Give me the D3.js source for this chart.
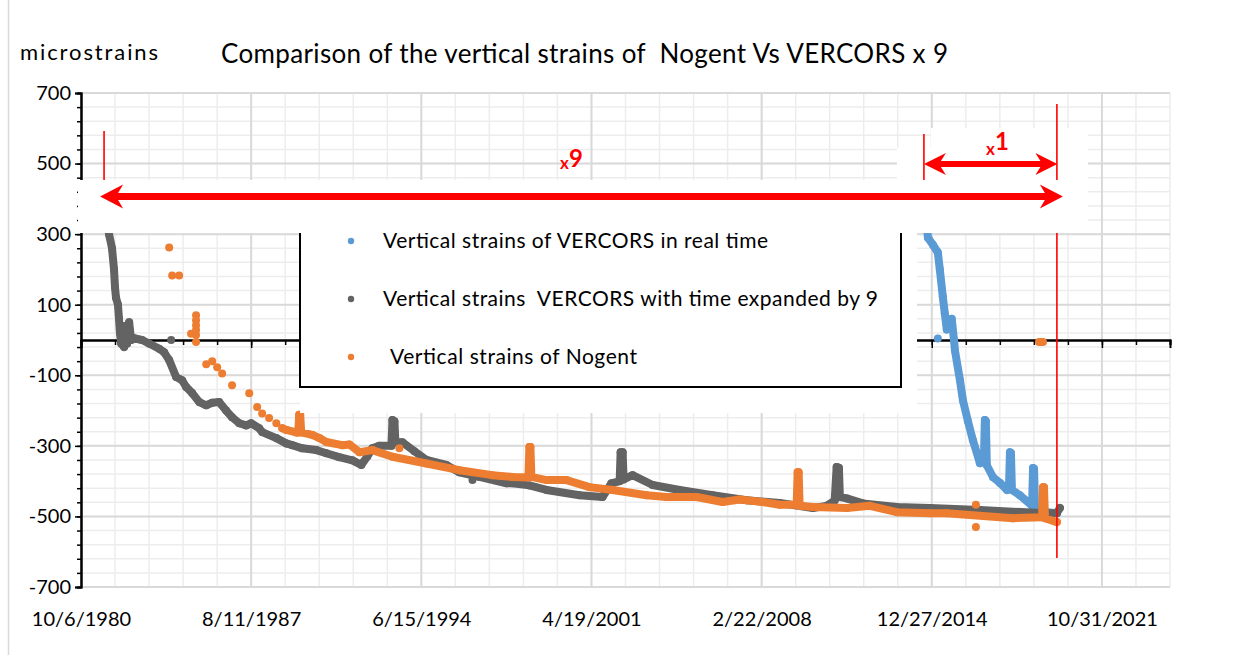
<!DOCTYPE html>
<html>
<head>
<meta charset="utf-8">
<script src="https://cdn.jsdelivr.net/npm/d3@7"></script>
<style>
  html, body { margin: 0; padding: 0; background: #fff; }
  svg { display: block; font-family: Lato, "Open Sans", sans-serif; }
</style>
</head>
<body>
<svg id="chart" width="1239" height="655"></svg>
<script>
// VERCORS, time expanded by 9 (decimal years, microstrains)
const grayYears = [1981.77, 1981.89, 1982.01, 1982.09, 1982.13, 1982.17, 1982.25, 1982.29, 1982.33, 1982.38,
  1982.50, 1982.54, 1982.62, 1982.70, 1982.78, 1982.90, 1983.22, 1983.50, 1983.91, 1984.11,
  1984.31, 1984.59, 1984.83, 1984.99, 1985.23, 1985.52, 1985.80, 1986.04, 1986.32, 1986.60,
  1986.84, 1987.13, 1987.41, 1987.61, 1987.93, 1988.05, 1988.62, 1989.02, 1989.26, 1989.66,
  1990.23, 1990.63, 1991.15, 1991.68, 1992.04, 1992.28, 1992.48, 1992.76, 1993.25, 1993.29,
  1993.37, 1993.41, 1993.69, 1994.17, 1994.66, 1995.46, 1995.98, 1996.79, 1997.88, 1998.12,
  1998.80, 1999.49, 2000.82, 2001.74, 2002.10, 2002.43, 2002.47, 2002.55, 2002.59, 2002.95,
  2003.76, 2004.84, 2006.17, 2007.54, 2008.87, 2010.20, 2010.76, 2011.08, 2011.16, 2011.25,
  2011.29, 2011.57, 2012.21, 2013.58, 2014.91, 2016.92, 2019.62, 2020.02, 2020.14];
const grayValues = [400, 300, 260, 200, 150, 120, 100, 60, 20, -10,
  -20, 40, -10, 50, 0, 5, 0, -10, -25, -35,
  -57, -105, -114, -133, -150, -176, -185, -178, -176, -200,
  -219, -236, -242, -236, -250, -261, -278, -293, -298, -307,
  -312, -321, -332, -341, -354, -330, -307, -300, -300, -227,
  -230, -290, -290, -315, -340, -354, -375, -388, -406, -406,
  -412, -425, -440, -445, -406, -400, -318, -318, -395, -383,
  -411, -425, -440, -454, -462, -476, -470, -455, -360, -362,
  -445, -449, -463, -473, -476, -482, -491, -490, -476];
const grayDotYears = [1984.39, 1996.51];
const grayDotValues = [0, -397];

// Nogent
const nogentYears = [1988.86, 1989.02, 1989.42, 1989.50, 1989.54, 1989.58, 1989.62, 1990.07, 1990.35, 1990.63,
  1991.27, 1991.56, 1991.96, 1992.48, 1993.29, 1994.66, 1995.98, 1997.31, 1998.12, 1998.76,
  1998.80, 1998.84, 1998.88, 1999.49, 2000.29, 2001.22, 2002.15, 2003.51, 2004.32, 2005.53,
  2006.57, 2007.26, 2008.18, 2008.87, 2009.55, 2009.59, 2009.63, 2009.67, 2010.20, 2011.57,
  2012.49, 2013.58, 2014.91, 2015.59, 2018.25, 2019.42, 2019.46, 2019.50, 2019.54, 2020.02];
const nogentValues = [-250, -255, -262, -262, -212, -212, -262, -269, -278, -289,
  -298, -296, -318, -312, -331, -350, -369, -383, -388, -390,
  -303, -303, -388, -397, -397, -417, -425, -440, -445, -445,
  -459, -452, -459, -467, -467, -375, -375, -470, -473, -476,
  -470, -488, -491, -491, -505, -502, -417, -417, -505, -516];
const nogentDotYears = [1984.31, 1984.43, 1984.71, 1985.19, 1985.39, 1985.39, 1985.39, 1985.39, 1985.39, 1985.39,
  1985.80, 1986.04, 1986.24, 1986.44, 1986.84, 1987.53, 1987.85, 1988.05, 1988.33, 1988.62,
  1993.57, 2016.76, 2016.76, 2019.30, 2019.38, 2019.46];
const nogentDotValues = [262, 183, 183, 18, 70, 56, 42, 28, 14, -6,
  -69, -60, -77, -95, -128, -151, -190, -208, -221, -236,
  -307, -467, -530, -6, -6, -6];

// VERCORS in real time
const realYears = [2014.75, 2014.83, 2015.03, 2015.23, 2015.31, 2015.43, 2015.51, 2015.59, 2015.79, 2015.88,
  2015.92, 2016.12, 2016.24, 2016.44, 2016.64, 2016.92, 2017.08, 2017.12, 2017.16, 2017.20,
  2017.45, 2017.73, 2018.01, 2018.09, 2018.13, 2018.17, 2018.21, 2018.53, 2019.02, 2019.06,
  2019.10, 2019.14, 2019.62, 2020.02];
const realValues = [360, 290, 270, 248, 200, 123, 75, 30, 60, 0,
  -30, -114, -171, -230, -284, -349, -345, -227, -230, -355,
  -389, -405, -425, -420, -318, -320, -425, -440, -470, -363,
  -365, -474, -488, -491];
const realDotYears = [2015.23];
const realDotValues = [4];

const xTickLabels = ["10/6/1980", "8/11/1987", "6/15/1994", "4/19/2001", "2/22/2008", "12/27/2014", "10/31/2021"];
const yTickLabels = [700, 500, 300, 100, -100, -300, -500, -700];

const seriesNames = ["Vertical strains of VERCORS in real time",
  "Vertical strains  VERCORS with time expanded by 9",
  "Vertical strains of Nogent"];
const seriesColors = ["#5b9bd5", "#636363", "#ed7d31"];

// time spans marked by the red arrows (decimal years)
const spanX9 = [1981.53, 2020.26];
const spanX1 = [2014.67, 2020.04];

const svg = d3.select("#chart");
const parseTick = d3.utcParse("%m/%d/%Y");
const fmtTick = d3.utcFormat("%-m/%-d/%Y");
const toDate = (v) => {
  const yr = Math.floor(v);
  const s = Date.UTC(yr, 0, 1), e = Date.UTC(yr + 1, 0, 1);
  return new Date(s + (v - yr) * (e - s));
};

const start = parseTick(xTickLabels[0]);
const end = d3.utcDay.offset(start, 16000);
const x = d3.scaleUtc().domain([start, end]).range([81, 1170]);
const y = d3.scaleLinear().domain([-700, 700]).range([587, 93]);
const plotL = 81, plotR = 1170, plotT = 93, plotB = 587;

// outer frame edge
svg.append("line").attr("x1", 8.5).attr("x2", 8.5).attr("y1", 0).attr("y2", 655)
  .attr("stroke", "#d9d9d9").attr("stroke-width", 1.5);

// gridlines
const minorX = d3.range(0, 16001, 500).map((d) => d3.utcDay.offset(start, d));
const majorX = xTickLabels.map(parseTick);
const minorY = d3.range(-700, 701, 40);
const grid = svg.append("g");
grid.selectAll(".vmin").data(minorX).join("line")
  .attr("x1", (d) => x(d)).attr("x2", (d) => x(d)).attr("y1", plotT).attr("y2", plotB)
  .attr("stroke", "#ededed").attr("stroke-width", 1.5);
grid.selectAll(".hmin").data(minorY).join("line")
  .attr("x1", plotL).attr("x2", plotR).attr("y1", (d) => y(d)).attr("y2", (d) => y(d))
  .attr("stroke", "#ededed").attr("stroke-width", 1.5);
grid.selectAll(".vmaj").data(majorX).join("line")
  .attr("x1", (d) => x(d)).attr("x2", (d) => x(d)).attr("y1", plotT).attr("y2", plotB)
  .attr("stroke", "#d9d9d9").attr("stroke-width", 2);
grid.selectAll(".hmaj").data(yTickLabels).join("line")
  .attr("x1", plotL).attr("x2", plotR).attr("y1", (d) => y(d)).attr("y2", (d) => y(d))
  .attr("stroke", "#d9d9d9").attr("stroke-width", 2);

// y axis
const yMinor = svg.append("g").attr("transform", `translate(${plotL},0)`)
  .call(d3.axisLeft(y).tickValues(minorY).tickSize(4).tickFormat(""));
const yAxis = svg.append("g").attr("transform", `translate(${plotL},0)`)
  .call(d3.axisLeft(y).tickValues(yTickLabels).tickSize(6).tickPadding(4).tickFormat((d) => String(d)));
[yMinor, yAxis].forEach((g) => {
  g.selectAll("line").attr("stroke", "#000").attr("stroke-width", 1.5);
  g.select(".domain").attr("stroke", "#000").attr("stroke-width", 2);
});
yAxis.selectAll("text").attr("font-family", "Lato, sans-serif").attr("font-size", 20).attr("fill", "#000");

// x axis at zero
const xMinor = svg.append("g").attr("transform", `translate(0,${y(0)})`)
  .call(d3.axisBottom(x).tickValues(minorX).tickSize(5).tickFormat(""));
const xMajor = svg.append("g").attr("transform", `translate(0,${y(0)})`)
  .call(d3.axisBottom(x).tickValues(majorX).tickSize(8).tickFormat(""));
[xMinor, xMajor].forEach((g) => {
  g.selectAll("line").attr("stroke", "#000").attr("stroke-width", 1.5);
  g.select(".domain").attr("stroke", "#000").attr("stroke-width", 2);
});
// x labels low
const xLabels = svg.append("g").attr("transform", `translate(0,${plotB})`)
  .call(d3.axisBottom(x).tickValues(majorX).tickSize(0).tickPadding(25).tickFormat(fmtTick));
xLabels.select(".domain").remove();
xLabels.selectAll("text").attr("font-family", "Lato, sans-serif").attr("font-size", 20).attr("fill", "#000");

// series
const line = d3.line().x((d) => x(toDate(d[0]))).y((d) => y(d[1]));
const series = [
  { track: d3.zip(realYears, realValues), dots: d3.zip(realDotYears, realDotValues), color: seriesColors[0] },
  { track: d3.zip(grayYears, grayValues), dots: d3.zip(grayDotYears, grayDotValues), color: seriesColors[1] },
  { track: d3.zip(nogentYears, nogentValues), dots: d3.zip(nogentDotYears, nogentDotValues), color: seriesColors[2] },
];
series.forEach((s) => {
  const g = svg.append("g");
  g.append("path").attr("d", line(s.track)).attr("fill", "none")
    .attr("stroke", s.color).attr("stroke-width", 8)
    .attr("stroke-linejoin", "round").attr("stroke-linecap", "round");
  g.selectAll("circle").data(s.track.concat(s.dots)).join("circle")
    .attr("cx", (d) => x(toDate(d[0]))).attr("cy", (d) => y(d[1]))
    .attr("r", 4).attr("fill", s.color);
});

// legend
svg.append("rect").attr("x", 300).attr("y", 233).attr("width", 617).attr("height", 180).attr("fill", "#fff");
svg.append("rect").attr("x", 300).attr("y", 200).attr("width", 601).attr("height", 187)
  .attr("fill", "none").attr("stroke", "#000").attr("stroke-width", 2);
const legendY = [241, 299, 357];
const legendX = [383, 383, 390];
const legendW = [385, 495, 247];
seriesNames.forEach((name, i) => {
  svg.append("circle").attr("cx", 351).attr("cy", legendY[i]).attr("r", 3.2).attr("fill", seriesColors[i]);
  svg.append("text").attr("x", legendX[i]).attr("y", legendY[i] + 7)
    .attr("font-size", 21).attr("fill", "#000")
    .attr("textLength", legendW[i]).style("white-space", "pre").text(name);
});

// white patches behind the annotations
svg.append("rect").attr("x", 897).attr("y", 148).attr("width", 191).attr("height", 34).attr("fill", "#fff");
svg.append("rect").attr("x", 931).attr("y", 128).attr("width", 157).attr("height", 22).attr("fill", "#fff");

// long red marker line at the end of the span
svg.append("line").attr("x1", x(toDate(2020.02))).attr("x2", x(toDate(2020.02)))
  .attr("y1", 104).attr("y2", 558).attr("stroke", "#ff0000").attr("stroke-width", 1.6);

svg.append("rect").attr("x", 78).attr("y", 180).attr("width", 1010).attr("height", 53).attr("fill", "#fff");

// short red ticks
svg.append("line").attr("x1", x(toDate(1981.69))).attr("x2", x(toDate(1981.69)))
  .attr("y1", 131).attr("y2", 180).attr("stroke", "#ff0000").attr("stroke-width", 1.6);
svg.append("line").attr("x1", x(toDate(spanX1[0]))).attr("x2", x(toDate(spanX1[0])))
  .attr("y1", 134).attr("y2", 180).attr("stroke", "#ff0000").attr("stroke-width", 1.6);

// double arrows
function doubleArrow(x0, x1, cy, shaft, headL, headH) {
  const p = d3.path();
  const notch = 5;
  p.moveTo(x0, cy);
  p.lineTo(x0 + headL, cy - headH);
  p.lineTo(x0 + headL - notch, cy - shaft / 2);
  p.lineTo(x1 - headL + notch, cy - shaft / 2);
  p.lineTo(x1 - headL, cy - headH);
  p.lineTo(x1, cy);
  p.lineTo(x1 - headL, cy + headH);
  p.lineTo(x1 - headL + notch, cy + shaft / 2);
  p.lineTo(x0 + headL - notch, cy + shaft / 2);
  p.lineTo(x0 + headL, cy + headH);
  p.closePath();
  return p.toString();
}
svg.append("path").attr("d", doubleArrow(x(toDate(spanX9[0])), x(toDate(spanX9[1])), 196.5, 7, 23, 12)).attr("fill", "#ff0000");
svg.append("path").attr("d", doubleArrow(x(toDate(spanX1[0])), x(toDate(spanX1[1])), 164, 6, 22, 11)).attr("fill", "#ff0000");

const lab9 = svg.append("text").attr("x", 560).attr("y", 169).attr("fill", "#ff0000").attr("font-weight", "bold");
lab9.append("tspan").attr("font-size", 17).text("x");
lab9.append("tspan").attr("font-size", 24).attr("dy", -2).text("9");
const lab1 = svg.append("text").attr("x", 986).attr("y", 155).attr("fill", "#ff0000").attr("font-weight", "bold");
lab1.append("tspan").attr("font-size", 17).text("x");
lab1.append("tspan").attr("font-size", 24).attr("dy", -5).text("1");

// titles
svg.append("text").attr("x", 20).attr("y", 60).attr("font-size", 22).attr("fill", "#000")
  .attr("textLength", 138).text("microstrains");
svg.append("text").attr("x", 221).attr("y", 63).attr("font-size", 26).attr("fill", "#000")
  .attr("textLength", 727).style("white-space", "pre")
  .text("Comparison of the vertical strains of  Nogent Vs VERCORS x 9");
</script>
</body>
</html>
